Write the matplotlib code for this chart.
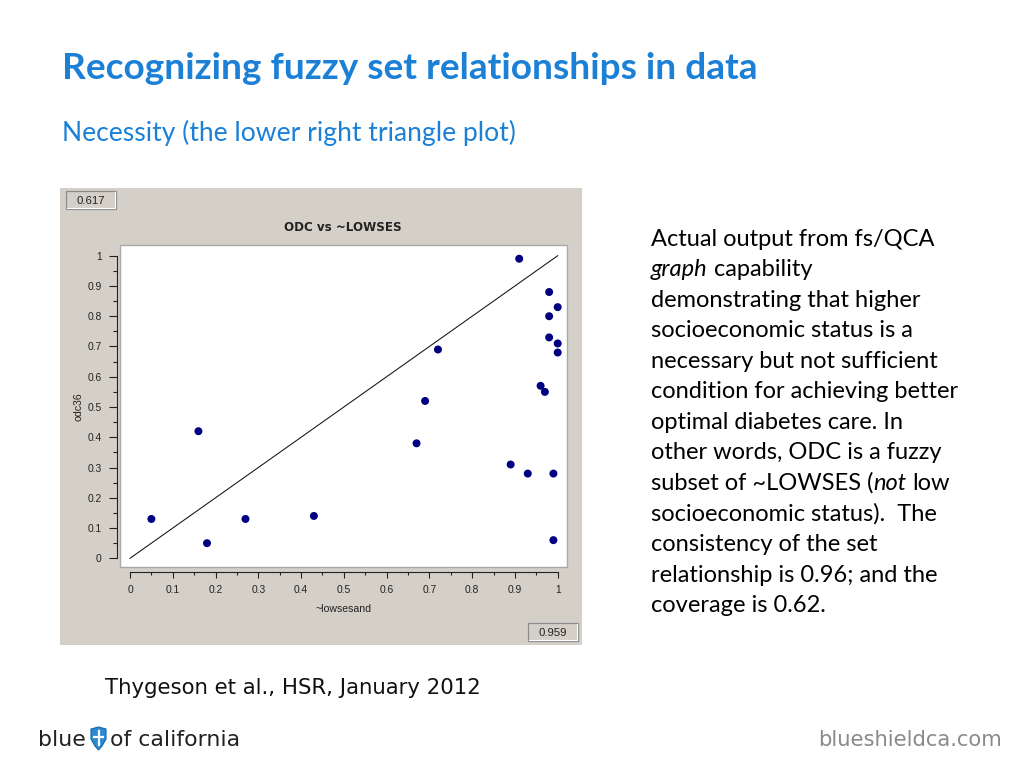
import matplotlib
matplotlib.use("Agg")
import matplotlib.pyplot as plt
from matplotlib.patches import Rectangle, Polygon
from matplotlib.ticker import MultipleLocator

# ---------------- data ----------------
lowses_not = [0.05, 0.16, 0.18, 0.27, 0.43, 0.67, 0.69, 0.72, 0.89, 0.91, 0.93,
              0.96, 0.97, 0.98, 0.98, 0.98, 0.99, 0.99, 1.00, 1.00, 1.00]
odc36 = [0.13, 0.42, 0.05, 0.13, 0.14, 0.38, 0.52, 0.69, 0.31, 0.99, 0.28,
         0.57, 0.55, 0.88, 0.80, 0.73, 0.28, 0.06, 0.83, 0.71, 0.68]
diag_x = [0, 1]
diag_y = [0, 1]
tick_vals = [0, 0.1, 0.2, 0.3, 0.4, 0.5, 0.6, 0.7, 0.8, 0.9, 1]
tick_labels = ["0", "0.1", "0.2", "0.3", "0.4", "0.5", "0.6", "0.7", "0.8", "0.9", "1"]
coverage_label = "0.617"
consistency_label = "0.959"
chart_title = "ODC vs ~LOWSES"
x_label = "~lowsesand"
y_label = "odc36"
slide_title = "Recognizing fuzzy set relationships in data"
slide_subtitle = "Necessity (the lower right triangle plot)"
citation = "Thygeson et al., HSR, January 2012"
paragraph = [
    [("Actual output from fs/QCA", False)],
    [("graph", True), (" capability", False)],
    [("demonstrating that higher", False)],
    [("socioeconomic status is a", False)],
    [("necessary but not sufficient", False)],
    [("condition for achieving better", False)],
    [("optimal diabetes care. In", False)],
    [("other words, ODC is a fuzzy", False)],
    [("subset of ~LOWSES (", False), ("not", True), (" low", False)],
    [("socioeconomic status).  The", False)],
    [("consistency of the set", False)],
    [("relationship is 0.96; and the", False)],
    [("coverage is 0.62.", False)],
]

W, H = 1024, 768
fig = plt.figure(figsize=(10.24, 7.68), dpi=100)
fig.patch.set_facecolor("white")
renderer = fig.canvas.get_renderer()

deco = fig.add_axes([0, 0, 1, 1], zorder=0)
deco.set_xlim(0, W)
deco.set_ylim(H, 0)
deco.axis("off")

BLUE = "#1b80d6"


def fit(x, y, s, target_w, **kw):
    t = deco.text(x, y, s, fontsize=10, **kw)
    w = t.get_window_extent(renderer).width
    t.set_fontsize(10 * target_w / w)
    return t


# slide texts
fit(62, 79, slide_title, 694, family="Lato", weight="bold", color=BLUE, va="baseline")
fit(62, 141, slide_subtitle, 453, family="Lato", color=BLUE, va="baseline")
fit(105, 694, citation, 375, family="DejaVu Sans", color="#111111", va="baseline")
fit(818, 746, "blueshieldca.com", 185, family="DejaVu Sans", color="#8a8a8a", va="baseline")

# logo
b = fit(27, 746, "blue", 58, family="DejaVu Sans", color="#222222", va="baseline")
oc = fit(110, 746, "of california", 107, family="DejaVu Sans", color="#222222", va="baseline")
logo_fs = (b.get_fontsize() * oc.get_fontsize()) ** 0.5
b.set_fontsize(logo_fs)
oc.set_fontsize(logo_fs)
bw = b.get_window_extent(renderer).width
b.set_x(86 - bw)
shield = Polygon([(91, 729), (98.5, 727), (106, 729), (106, 739), (102, 746),
                  (98.5, 750), (95, 746), (91, 739)], closed=True,
                 facecolor="#2a8bd0", edgecolor="#1565a8", lw=0.8)
deco.add_patch(shield)
deco.plot([98.5, 98.5], [731, 745], color="white", lw=1.6)
deco.plot([94, 103], [737, 737], color="white", lw=1.6)

# paragraph with mixed italic pieces
probe = deco.text(0, 0, "condition for achieving better", fontsize=10, family="Lato")
pw = probe.get_window_extent(renderer).width
probe.remove()
para_fs = 10 * 308 / pw
sp = deco.text(0, 0, "a a", fontsize=para_fs, family="Lato")
sp_w = sp.get_window_extent(renderer).width
sp.remove()
sp2 = deco.text(0, 0, "aa", fontsize=para_fs, family="Lato")
space_w = sp_w - sp2.get_window_extent(renderer).width
sp2.remove()

y0 = 245.5
dy = 30.55
for i, line in enumerate(paragraph):
    x = 651
    y = y0 + i * dy
    for txt, ital in line:
        lead = len(txt) - len(txt.lstrip(" "))
        x += lead * space_w
        core = txt.strip(" ")
        t = deco.text(x, y, core, fontsize=para_fs, family="Lato",
                      style="italic" if ital else "normal", color="black", va="baseline")
        x += t.get_window_extent(renderer).width
        trail = len(txt) - len(txt.rstrip(" "))
        x += trail * space_w

# gray panel
PANEL = "#d4d0c8"
deco.add_patch(Rectangle((60, 188), 522, 457, facecolor=PANEL, edgecolor="none"))


def box(x0, y0, w, h, s):
    deco.add_patch(Rectangle((x0, y0), w, h, facecolor=PANEL, edgecolor="#8c8c8c", lw=0.9))
    deco.plot([x0 + 1, x0 + w - 1, x0 + w - 1], [y0 + h - 1, y0 + h - 1, y0 + 1],
              color="white", lw=0.8)
    deco.text(x0 + w / 2, y0 + h / 2 + 0.5, s, fontsize=8.2, family="Liberation Sans",
              color="#222222", ha="center", va="center")


box(66, 191, 50, 18, coverage_label)
box(528, 623, 50, 18, consistency_label)

deco.text(342.5, 227.5, chart_title, fontsize=8.6, family="DejaVu Sans", weight="bold",
          color="#222222", ha="center", va="center")
deco.text(343, 609.5, x_label, fontsize=7.6, family="Liberation Sans",
          color="#222222", ha="center", va="center")
deco.text(78, 406.5, y_label, fontsize=7.6, family="Liberation Sans",
          color="#222222", ha="center", va="center", rotation=90)

# ---------------- main plot axes ----------------
x0p, x1p = 130.0, 557.7    # pixel of data 0 and 1 (x)
y0p, y1p = 558.3, 255.7    # pixel of data 0 and 1 (y)
sx = x1p - x0p
sy = y0p - y1p
L, R, T, B = 120.0, 566.7, 245.0, 566.7
ax = fig.add_axes([L / W, 1 - B / H, (R - L) / W, (B - T) / H], zorder=1)
ax.set_xlim((L - x0p) / sx, (R - x0p) / sx)
ax.set_ylim((y0p - B) / sy, (y0p - T) / sy)
ax.set_facecolor("white")

ax.plot(diag_x, diag_y, color="#111111", lw=0.75, zorder=2)
ax.scatter(lowses_not, odc36, s=33, color="#000080", edgecolors="none", zorder=3)

for s in ("top", "right"):
    ax.spines[s].set_visible(False)
ax.spines["left"].set_position(("outward", 2.3))
ax.spines["bottom"].set_position(("outward", 4.0))
ax.spines["left"].set_bounds(0, 1)
ax.spines["bottom"].set_bounds(0, 1)
for s in ("left", "bottom"):
    ax.spines[s].set_color("#222222")
    ax.spines[s].set_linewidth(0.8)

ax.set_xticks(tick_vals, tick_labels)
ax.set_yticks(tick_vals, tick_labels)
ax.xaxis.set_minor_locator(MultipleLocator(0.05))
ax.yaxis.set_minor_locator(MultipleLocator(0.05))
for lab in ax.get_xticklabels() + ax.get_yticklabels():
    lab.set_family("Liberation Sans")
ax.tick_params(axis="y", which="major", direction="out", length=5.8, width=0.8,
               labelsize=7.4, pad=5.0, color="#222222", labelcolor="#222222")
ax.tick_params(axis="y", which="minor", direction="out", length=3.0, width=0.8,
               color="#222222")
ax.tick_params(axis="x", which="major", direction="out", length=4.2, width=0.8,
               labelsize=7.4, pad=5.0, color="#222222", labelcolor="#222222")
ax.tick_params(axis="x", which="minor", direction="out", length=2.4, width=0.8,
               color="#222222")

ax.add_patch(Rectangle((0, 0), 1, 1, transform=ax.transAxes, fill=False,
                       edgecolor="#a8a8a8", lw=1.0, clip_on=False, zorder=4))

fig.savefig("out.png", dpi=100)
